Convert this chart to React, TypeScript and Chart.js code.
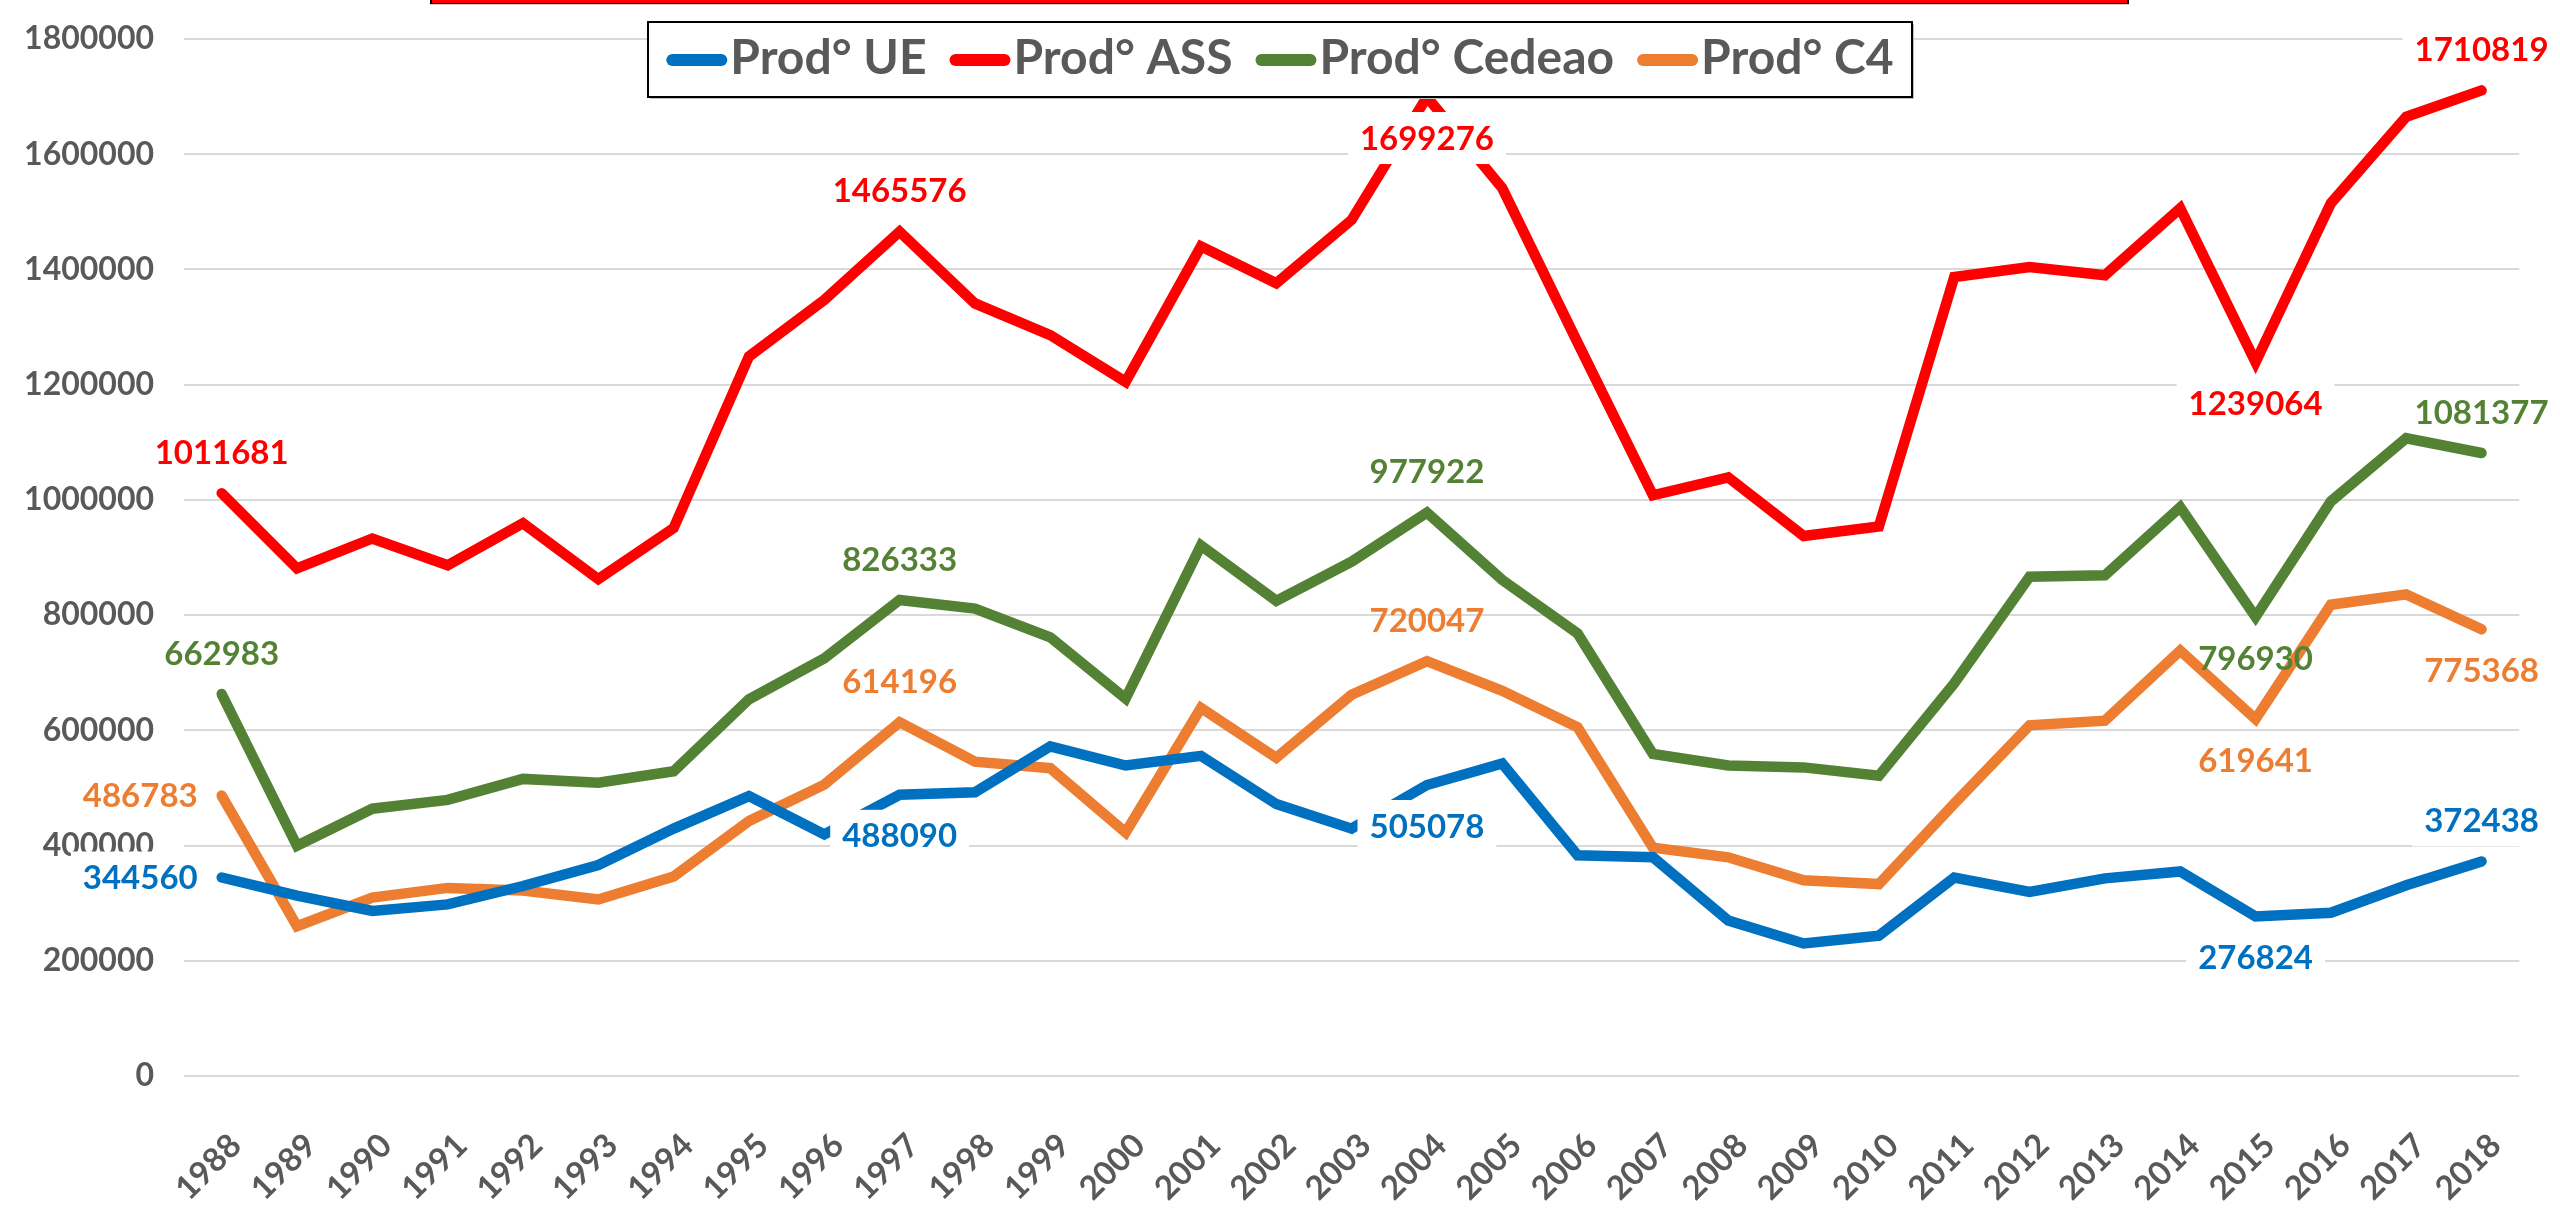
import React, { useEffect, useRef } from 'react';
import { Chart, registerables } from 'chart.js';

Chart.register(...registerables);

const years = [
  '1988', '1989', '1990', '1991', '1992', '1993', '1994', '1995', '1996', '1997', '1998',
  '1999', '2000', '2001', '2002', '2003', '2004', '2005', '2006', '2007', '2008', '2009',
  '2010', '2011', '2012', '2013', '2014', '2015', '2016', '2017', '2018',
];

const seriesNames = ['Prod° UE', 'Prod° ASS', 'Prod° Cedeao', 'Prod° C4'];

const prodUE = [
  344560, 313200, 286600, 297900, 329800, 366300, 429400, 485800, 419400, 488090, 492500,
  572300, 539000, 555600, 472000, 429400, 505078, 542300, 383000, 379600, 269900, 230000,
  243400, 344400, 319700, 343000, 355000, 276824, 283300, 331000, 372438,
];

const prodASS = [
  1011681, 881000, 933000, 886500, 959600, 862500, 951000, 1249000, 1347000, 1465576, 1341000,
  1286000, 1205000, 1440000, 1376000, 1486000, 1699276, 1541000, 1273000, 1008000, 1039000, 937500,
  954000, 1387000, 1404000, 1390000, 1506000, 1239064, 1515000, 1665000, 1710819,
];

const prodCedeao = [
  662983, 399600, 464000, 479300, 515700, 509100, 529000, 653900, 725000, 826333, 811300,
  761500, 655300, 921000, 824800, 892700, 977922, 861000, 768300, 559000, 539000, 535700,
  521100, 681800, 866500, 869100, 987300, 796930, 997400, 1107000, 1081377,
];

const prodC4 = [
  486783, 260000, 309800, 326500, 321800, 306500, 346300, 442600, 505800, 614196, 545700,
  534300, 422700, 638800, 552300, 661900, 720047, 668600, 605400, 396300, 379600, 339700,
  333100, 472700, 608800, 616700, 738200, 619641, 818100, 836000, 775368,
];

const yTicks = [0, 200000, 400000, 600000, 800000, 1000000, 1200000, 1400000, 1600000, 1800000];

// years that carry a data label
const labelYears = ['1988', '1997', '2004', '2015', '2018'];

// placement of each label (per series, matching labelYears)
const placeUE = ['left', 'below', 'below', 'below', 'above'];
const placeASS = ['above', 'above', 'below', 'below', 'above'];
const placeCedeao = ['above', 'above', 'above', 'below', 'above'];
const placeC4 = ['left', 'above', 'above', 'below', 'below'];

const COLORS = ['#0070C0', '#FF0000', '#548235', '#ED7D31'];
const LABEL_BG = [true, true, false, false];
const FONT = 'Lato, "Open Sans", "Liberation Sans", sans-serif';
const TEXT_GRAY = '#595959';

const placements = [placeUE, placeASS, placeCedeao, placeC4];

const topBarPlugin = {
  id: 'topBar',
  afterDraw(chart: any) {
    const ctx = chart.ctx;
    ctx.save();
    ctx.fillStyle = '#000000';
    ctx.fillRect(430, 0, 1699, 4);
    ctx.fillStyle = '#FF0000';
    ctx.fillRect(432, 0, 1695, 3);
    ctx.fillStyle = '#d0d0d0';
    ctx.fillRect(430, 4, 1699, 1);
    ctx.restore();
  },
};

const dataLabelPlugin = {
  id: 'dataLabels',
  afterDatasetsDraw(chart: any) {
    const ctx = chart.ctx;
    const cw = chart.width;
    ctx.save();
    ctx.font = `bold 33px ${FONT}`;
    ctx.textAlign = 'center';
    ctx.textBaseline = 'middle';
    chart.data.datasets.forEach((ds: any, i: number) => {
      const meta = chart.getDatasetMeta(i);
      labelYears.forEach((yr, k) => {
        const j = years.indexOf(yr);
        const el = meta.data[j];
        if (!el) return;
        const text = String(ds.data[j]);
        const w = ctx.measureText(text).width;
        const place = placements[i][k];
        let cx = el.x;
        let cy = el.y;
        if (place === 'above') cy = el.y - 41;
        else if (place === 'below') cy = el.y + 41;
        else if (place === 'left') cx = el.x - 24 - w / 2;
        else if (place === 'right') cx = el.x + 24 + w / 2;
        cx = Math.min(cx, cw - w / 2 - 6);
        if (LABEL_BG[i]) {
          ctx.fillStyle = '#ffffff';
          ctx.fillRect(cx - w / 2 - 12, cy - 26, w + 24, 52);
        }
        ctx.fillStyle = ds.borderColor;
        ctx.fillText(text, cx, cy + 1);
      });
    });
    ctx.restore();
  },
};

const legendPlugin = {
  id: 'customLegend',
  afterDraw(chart: any) {
    const ctx = chart.ctx;
    const bx = 648;
    const by = 22;
    const bw = 1264;
    const bh = 75;
    ctx.save();
    ctx.fillStyle = '#bfbfbf';
    ctx.fillRect(bx + 2, by + 2, bw, bh);
    ctx.fillStyle = '#ffffff';
    ctx.fillRect(bx, by, bw, bh);
    ctx.strokeStyle = '#000000';
    ctx.lineWidth = 2;
    ctx.strokeRect(bx, by, bw, bh);

    ctx.font = `bold 48px ${FONT}`;
    const markerLen = 61;
    const gapText = 3;
    const gapItem = 23;
    const widths = chart.data.datasets.map((ds: any) => ctx.measureText(ds.label).width);
    const total = widths.reduce((a: number, w: number) => a + markerLen + gapText + w, 0) + gapItem * (widths.length - 1);
    let x = bx + (bw - total) / 2;
    const cy = by + 36;
    chart.data.datasets.forEach((ds: any, i: number) => {
      ctx.strokeStyle = ds.borderColor;
      ctx.lineWidth = 12;
      ctx.lineCap = 'round';
      ctx.beginPath();
      ctx.moveTo(x + 6, cy + 2);
      ctx.lineTo(x + markerLen - 6, cy + 2);
      ctx.stroke();
      ctx.fillStyle = TEXT_GRAY;
      ctx.textAlign = 'left';
      ctx.textBaseline = 'middle';
      ctx.fillText(ds.label, x + markerLen + gapText, cy + 1);
      x += markerLen + gapText + widths[i] + gapItem;
    });
    ctx.restore();
  },
};

export default function App() {
  const canvasRef = useRef<HTMLCanvasElement | null>(null);

  useEffect(() => {
    document.body.style.margin = '0';
    const canvas = canvasRef.current;
    if (!canvas) return;
    const seriesData = [prodUE, prodASS, prodCedeao, prodC4];
    const chart = new Chart(canvas, {
      type: 'line',
      data: {
        labels: years,
        datasets: seriesData.map((d, i) => ({
          label: seriesNames[i],
          data: d,
          borderColor: COLORS[i],
          backgroundColor: COLORS[i],
          borderWidth: 10.5,
          borderCapStyle: 'round',
          borderJoinStyle: 'miter',
          pointRadius: 0,
          pointHoverRadius: 0,
          tension: 0,
          fill: false,
        })),
      },
      options: {
        responsive: false,
        animation: false,
        devicePixelRatio: 1,
        layout: { padding: { top: 39, right: 28, left: 0, bottom: 0 } },
        plugins: {
          legend: { display: false },
          tooltip: { enabled: false },
          title: { display: false },
        },
        scales: {
          x: {
            type: 'category',
            offset: true,
            grid: { display: false, drawTicks: false },
            border: { display: false },
            ticks: {
              autoSkip: false,
              minRotation: 45,
              maxRotation: 45,
              padding: 50,
              labelOffset: 14,
              color: TEXT_GRAY,
              font: { family: FONT, size: 33, weight: 'bold' },
            },
            afterFit: (scale: any) => {
              scale.height = 135;
            },
          },
          y: {
            min: 0,
            max: 1800000,
            afterBuildTicks: (scale: any) => {
              scale.ticks = yTicks.map((v) => ({ value: v }));
            },
            grid: { color: '#d9d9d9', lineWidth: 2, drawTicks: false },
            border: { display: false },
            ticks: {
              padding: 30,
              color: TEXT_GRAY,
              font: { family: FONT, size: 32, weight: 'bold' },
              callback: (v: any) => String(v),
            },
            afterFit: (scale: any) => {
              scale.width = 184;
              scale.paddingTop = 0;
              scale.paddingBottom = 0;
            },
          },
        },
      },
      plugins: [dataLabelPlugin, legendPlugin, topBarPlugin],
    } as any);
    return () => chart.destroy();
  }, []);

  return (
    <div style={{ position: 'fixed', left: 0, top: 0, width: 2560, height: 1211, background: '#ffffff' }}>
      <canvas ref={canvasRef} width={2560} height={1211} style={{ display: 'block', width: 2560, height: 1211 }} />
    </div>
  );
}
